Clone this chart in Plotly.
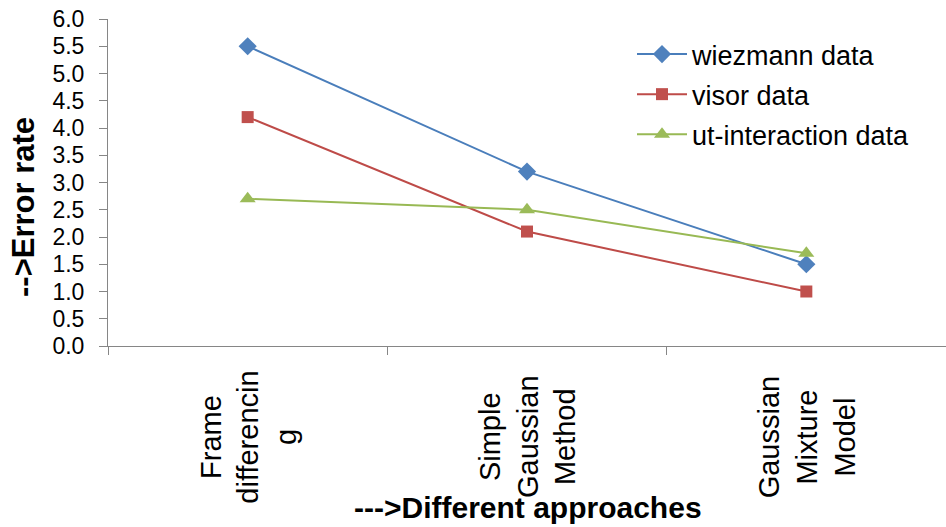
import plotly.graph_objects as go

categories = ["Frame differencing", "Simple Gaussian Method", "Gaussian Mixture Model"]
tick_labels = ["Frame<br>differencin<br>g", "Simple<br>Gaussian<br>Method", "Gaussian<br>Mixture<br>Model"]
wiezmann = [5.5, 3.2, 1.5]
visor = [4.2, 2.1, 1.0]
ut_interaction = [2.7, 2.5, 1.7]
y_title = "-->Error rate"
x_title = "--->Different approaches"

FONT = "Liberation Sans, Arial, sans-serif"
GRAY = "#868686"

series = [
    ("wiezmann data", wiezmann, "#4A7EBB", "#4F81BD", "diamond", 14),
    ("visor data", visor, "#BE4B48", "#C0504D", "square", 12),
    ("ut-interaction data", ut_interaction, "#98B954", "#9BBB59", "triangle-up", 14),
]

fig = go.Figure()
for i, (name, vals, lc, mc, sym, ms) in enumerate(series):
    fig.add_trace(go.Scatter(
        x=categories, y=vals, name=name, mode="lines+markers",
        line=dict(color=lc, width=2),
        marker=dict(symbol=sym, size=ms, color=mc, line=dict(width=0)),
        legendgroup=f"g{i}",
    ))

for cat, lab in zip(categories, tick_labels):
    fig.add_annotation(
        x=cat, xref="x", y=(346 - 437) / 327, yref="paper",
        text=lab, textangle=-90, showarrow=False, align="center",
        xanchor="center", yanchor="middle",
        font=dict(family=FONT, size=29, color="black"),
    )

fig.add_annotation(
    x=(23 - 108) / 838, xref="paper", y=(346 - 207) / 327, yref="paper",
    text=f"<b>{y_title}</b>", textangle=-90, showarrow=False,
    xanchor="center", yanchor="middle",
    font=dict(family=FONT, size=31, color="black"),
)
fig.add_annotation(
    x=(528 - 108) / 838, xref="paper", y=(346 - 507) / 327, yref="paper",
    text=f"<b>{x_title}</b>", showarrow=False,
    xanchor="center", yanchor="middle",
    font=dict(family=FONT, size=30, color="black"),
)

fig.update_layout(
    width=946, height=527,
    margin=dict(l=108, r=0, t=19, b=181),
    paper_bgcolor="white", plot_bgcolor="white",
    font=dict(family=FONT, color="black"),
    showlegend=True,
    legend=dict(
        x=(638 - 108 - 6) / 838, y=(346 - 30) / 327, xanchor="left", yanchor="top",
        font=dict(family=FONT, size=27, color="black"),
        bgcolor="rgba(0,0,0,0)", tracegroupgap=2, itemwidth=50,
    ),
    xaxis=dict(
        type="category", range=[-0.5, 2.5], showticklabels=False,
        tickson="boundaries", ticks="outside", ticklen=8, tickcolor=GRAY, tickwidth=1,
        showline=True, linecolor=GRAY, linewidth=1, showgrid=False, zeroline=False,
        fixedrange=True,
    ),
    yaxis=dict(
        range=[0, 6], dtick=0.5, tick0=0, tickformat=".1f",
        ticks="outside", ticklen=8, tickcolor=GRAY, tickwidth=1,
        showline=True, linecolor=GRAY, linewidth=1, showgrid=False, zeroline=False,
        tickfont=dict(family=FONT, size=23, color="black"),
        ticklabelstandoff=10,
    ),
)

fig.write_html("out.html", config={"displayModeBar": False},
               post_script="document.body.style.margin='0';")
